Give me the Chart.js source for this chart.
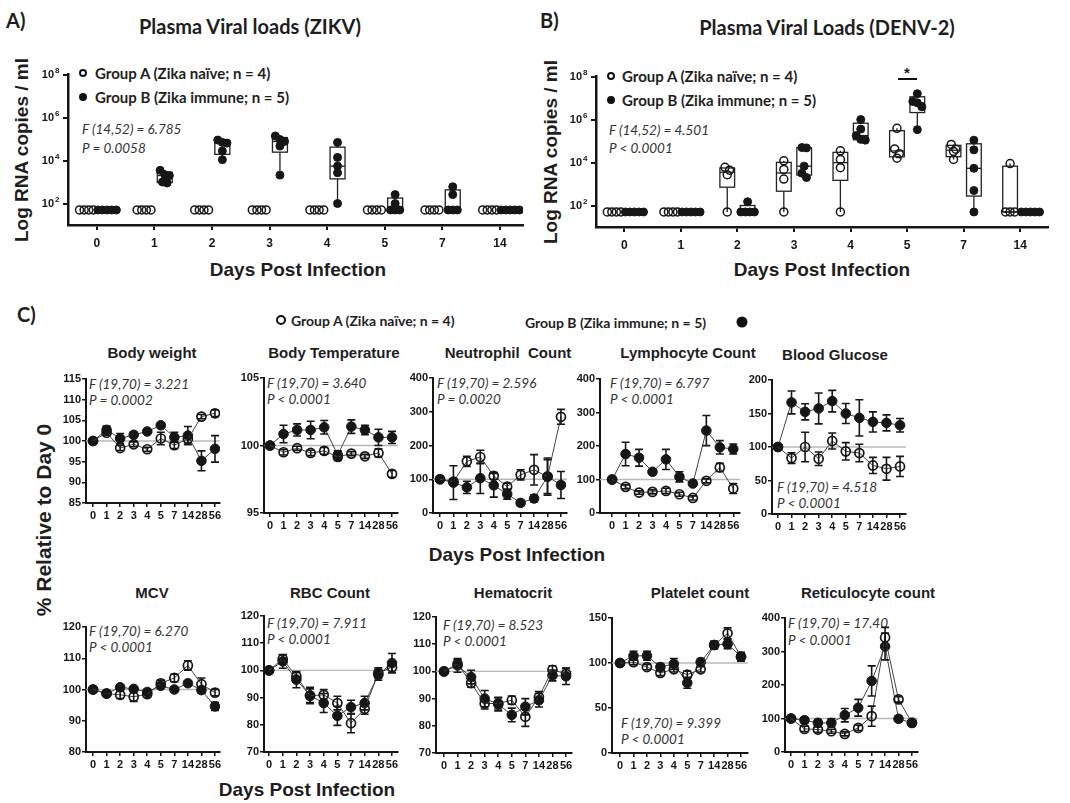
<!DOCTYPE html>
<html>
<head>
<meta charset="utf-8">
<script src="https://cdn.jsdelivr.net/npm/chart.js@4.4.0/dist/chart.umd.min.js"></script>
<style>
  body { margin: 0; width: 1070px; height: 803px; background: #fff; position: relative; overflow: hidden; }
  .t { position: absolute; white-space: nowrap; color: #1e1e1e; line-height: 1; }
  .c { transform: translate(-50%, -50%); }
  .l { transform: translateY(-50%); }
  .letra { font: bold 20px 'Lato', sans-serif; }
  .titulo { font: bold 20px 'Lato', sans-serif; }
  .leyenda { font: bold 15px 'Lato', sans-serif; }
  .estad { font: italic 13.5px 'Lato', sans-serif; color: #333; }
  .sub { font: bold 15px 'Liberation Sans', Arial, sans-serif; }
  .eje { font: bold 19px 'Liberation Sans', Arial, sans-serif; }
  .ejev { font: bold 19px 'Liberation Sans', Arial, sans-serif; transform: translate(-50%, -50%) rotate(-90deg); }
  .pto { position: absolute; width: 8px; height: 8px; border-radius: 50%; border: 2px solid #111; box-sizing: border-box; transform: translate(-50%, -50%); }
  .lleno { background: #111; }
</style>
</head>
<body>

<div class="t letra" style="left:6px;top:8px">A)</div>
<div class="t letra" style="left:540px;top:8px">B)</div>
<div class="t letra" style="left:17px;top:302px">C)</div>

<div class="t titulo c" style="left:250px;top:26px">Plasma Viral loads (ZIKV)</div>
<div class="t titulo c" style="left:827px;top:27px">Plasma Viral Loads (DENV-2)</div>

<div class="pto" style="left:83px;top:73px"></div>
<div class="t leyenda l" style="left:95px;top:73px">Group A (Zika naïve; n = 4)</div>
<div class="pto lleno" style="left:83px;top:97px"></div>
<div class="t leyenda l" style="left:95px;top:97px">Group B (Zika immune; n = 5)</div>
<div class="t estad l" style="left:82px;top:129px">F (14,52) = 6.785</div>
<div class="t estad l" style="left:82px;top:148px">P = 0.0058</div>

<div class="pto" style="left:611px;top:76px"></div>
<div class="t leyenda l" style="left:622px;top:76px">Group A (Zika naïve; n = 4)</div>
<div class="pto lleno" style="left:611px;top:100px"></div>
<div class="t leyenda l" style="left:622px;top:100px">Group B (Zika immune; n = 5)</div>
<div class="t estad l" style="left:609px;top:130px">F (14,52) = 4.501</div>
<div class="t estad l" style="left:609px;top:148px">P &lt; 0.0001</div>
<div style="position:absolute;left:898px;top:78px;width:19px;height:2px;background:#111"></div>
<div class="t c" style="left:907px;top:72px;font:bold 15px 'Liberation Sans'">*</div>

<div class="t eje c" style="left:298px;top:270px">Days Post Infection</div>
<div class="t eje c" style="left:822px;top:270px">Days Post Infection</div>
<div class="t ejev" style="left:22px;top:150px">Log RNA copies / ml</div>
<div class="t ejev" style="left:551px;top:152px">Log RNA copies / ml</div>

<div class="pto" style="left:281px;top:320px;width:10px;height:10px"></div>
<div class="t leyenda l" style="left:291px;top:320px;font-size:14px">Group A (Zika naïve; n = 4)</div>
<div class="t leyenda l" style="left:525px;top:322px;font-size:14px">Group B (Zika immune; n = 5)</div>
<div class="pto lleno" style="left:742px;top:322px;width:11px;height:11px"></div>

<div class="t sub c" style="left:152px;top:352px">Body weight</div>
<div class="t sub c" style="left:334px;top:352px">Body Temperature</div>
<div class="t sub c" style="left:508px;top:352px">Neutrophil&nbsp; Count</div>
<div class="t sub c" style="left:688px;top:352px">Lymphocyte Count</div>
<div class="t sub c" style="left:835px;top:354px">Blood Glucose</div>
<div class="t sub c" style="left:152px;top:592px">MCV</div>
<div class="t sub c" style="left:330px;top:592px">RBC Count</div>
<div class="t sub c" style="left:513px;top:592px">Hematocrit</div>
<div class="t sub c" style="left:700px;top:592px">Platelet count</div>
<div class="t sub c" style="left:868px;top:592px">Reticulocyte count</div>

<div class="t estad l" style="left:89px;top:384px">F (19,70) = 3.221</div>
<div class="t estad l" style="left:89px;top:400px">P = 0.0002</div>
<div class="t estad l" style="left:267px;top:383px">F (19,70) = 3.640</div>
<div class="t estad l" style="left:267px;top:399px">P &lt; 0.0001</div>
<div class="t estad l" style="left:437px;top:383px">F (19,70) = 2.596</div>
<div class="t estad l" style="left:437px;top:399px">P = 0.0020</div>
<div class="t estad l" style="left:610px;top:383px">F (19,70) = 6.797</div>
<div class="t estad l" style="left:610px;top:399px">P &lt; 0.0001</div>
<div class="t estad l" style="left:777px;top:487px">F (19,70) = 4.518</div>
<div class="t estad l" style="left:777px;top:503px">P &lt; 0.0001</div>
<div class="t estad l" style="left:89px;top:631px">F (19,70) = 6.270</div>
<div class="t estad l" style="left:89px;top:647px">P &lt; 0.0001</div>
<div class="t estad l" style="left:267px;top:623px">F (19,70) = 7.911</div>
<div class="t estad l" style="left:267px;top:639px">P &lt; 0.0001</div>
<div class="t estad l" style="left:443px;top:625px">F (19,70) = 8.523</div>
<div class="t estad l" style="left:443px;top:641px">P &lt; 0.0001</div>
<div class="t estad l" style="left:621px;top:723px">F (19,70) = 9.399</div>
<div class="t estad l" style="left:621px;top:739px">P &lt; 0.0001</div>
<div class="t estad l" style="left:788px;top:623px">F (19,70) = 17.40</div>
<div class="t estad l" style="left:788px;top:640px">P &lt; 0.0001</div>

<div class="t eje c" style="left:517px;top:555px">Days Post Infection</div>
<div class="t eje c" style="left:307px;top:790px">Days Post Infection</div>
<div class="t ejev" style="left:44px;top:520px;font-size:21px">% Relative to Day 0</div>

<script>
// Datos de cargas virales (copias/ml), una lista por día
const diasVirales = ['0', '1', '2', '3', '4', '5', '7', '14'];
const ticksLog = [1e2, 1e4, 1e6, 1e8];

const zikvGrupoA = [
    [50, 50, 50, 50], [50, 50, 50, 50], [50, 50, 50, 50], [50, 50, 50, 50],
    [50, 50, 50, 50], [50, 50, 50, 50], [50, 50, 50, 50], [50, 50, 50, 50]
];
const zikvGrupoB = [
    [50, 50, 50, 50, 50],
    [3500, 2200, 2000, 1000, 900],
    [90000, 70000, 65000, 28000, 11000],
    [140000, 95000, 78000, 47000, 2100],
    [70000, 14000, 5500, 2700, 100],
    [260, 100, 50, 50, 50],
    [600, 260, 50, 50, 50],
    [50, 50, 50, 50, 50]
];
const denvGrupoA = [
    [50, 50, 50, 50],
    [50, 50, 50, 50],
    [6000, 4400, 2700, 50],
    [12000, 4800, 1700, 50],
    [35000, 14000, 5800, 50],
    [390000, 43000, 26000, 16000],
    [70000, 42000, 33000, 14000],
    [9000, 50, 50, 50]
];
const denvGrupoB = [
    [50, 50, 50, 50, 50],
    [50, 50, 50, 50, 50],
    [150, 50, 50, 50, 50],
    [50000, 48000, 6800, 3200, 2000],
    [1000000, 360000, 180000, 120000, 110000],
    [16000000, 7000000, 6000000, 3900000, 340000],
    [110000, 39000, 5400, 500, 50],
    [50, 50, 50, 50, 50]
];

// Parámetros clínicos (% respecto al día 0), media y error
const dias = ['0', '1', '2', '3', '4', '5', '7', '14', '28', '56'];

const pesoA = [100, 102.0, 98.3, 99.2, 98.0, 100.6, 99.0, 100.5, 105.9, 106.7];
const pesoAerr = [0, 0.6, 0.6, 0.6, 0.5, 1.5, 0.8, 1.0, 0.5, 0.8];
const pesoB = [100, 102.7, 100.6, 101.5, 102.3, 103.8, 100.9, 101.3, 95.2, 98.1];
const pesoBerr = [0, 0.9, 1.2, 0.6, 0.3, 0.5, 1.2, 2.2, 2.4, 3.2];

const tempA = [100, 99.5, 99.8, 99.45, 99.6, 99.15, 99.4, 99.2, 99.45, 97.9];
const tempAerr = [0, 0.2, 0.15, 0.2, 0.25, 0.25, 0.15, 0.15, 0.3, 0.25];
const tempB = [100, 100.85, 101.15, 101.15, 101.35, 99.3, 101.4, 101.15, 100.6, 100.6];
const tempBerr = [0, 0.65, 0.45, 0.65, 0.5, 0.3, 0.5, 0.35, 0.6, 0.45];

const neuA = [100, 93, 153, 166, 110, 78, 113, 128, 108, 285];
const neuAerr = [0, 8, 15, 20, 10, 10, 15, 45, 50, 22];
const neuB = [100, 90, 76, 103, 82, 56, 30, 43, 108, 83];
const neuBerr = [0, 50, 18, 45, 35, 15, 8, 10, 55, 40];

const linA = [100, 78, 61, 63, 66, 56, 45, 96, 136, 73];
const linAerr = [0, 6, 5, 6, 8, 6, 6, 6, 12, 15];
const linB = [100, 176, 165, 123, 160, 108, 88, 246, 196, 191];
const linBerr = [0, 35, 25, 6, 30, 15, 6, 45, 20, 15];

const gluA = [100, 83.5, 100, 82.5, 109, 93.5, 91, 72.5, 67.5, 71];
const gluAerr = [0, 8, 22, 10, 12, 13, 13, 12, 17, 15];
const gluB = [100, 166.5, 152.5, 157.5, 168.5, 150, 143.5, 137.5, 136, 132.5];
const gluBerr = [0, 17, 12, 23, 16, 15, 27, 15, 12, 10];

const mcvA = [100, 98.7, 98.3, 97.7, 98.5, 102, 103.7, 107.7, 101.7, 99];
const mcvAerr = [0, 0.5, 1.2, 1.5, 1, 1, 1.2, 1.5, 2, 1];
const mcvB = [100, 98.7, 100.7, 100.2, 99.2, 101.2, 100, 102, 99.8, 94.6];
const mcvBerr = [0, 0.5, 0.8, 0.6, 0.8, 0.8, 0.5, 0.7, 1, 1.3];

const rbcA = [100, 104.2, 97.8, 90.7, 91.0, 88, 80.6, 85.9, 99, 101.2];
const rbcAerr = [0, 1.5, 1.5, 2.5, 2, 2.5, 3.5, 2, 2, 2];
const rbcB = [100, 103.3, 96.6, 90.8, 88, 83.3, 86.5, 88, 98.4, 102.7];
const rbcBerr = [0, 2.5, 3, 3, 3.5, 3.5, 2.5, 2.5, 2, 3.5];

const hctA = [100, 102.8, 95.7, 88.2, 88.2, 89.4, 83.3, 90.6, 100.6, 99.1];
const hctAerr = [0, 1.5, 1.5, 2, 2, 1.5, 3.5, 2, 1.5, 2];
const hctB = [100, 102.2, 97.9, 90, 88, 84, 87, 89.4, 98.5, 98.2];
const hctBerr = [0, 2.5, 2.5, 3, 2.5, 2.5, 3, 2.5, 2, 3];

const plaA = [100, 101, 95.5, 89, 93, 87, 93, 120, 133, 107];
const plaAerr = [0, 3, 3, 3, 3, 4, 3, 4, 6, 3];
const plaB = [100, 108, 108, 95.5, 99, 78, 101, 120, 121, 107];
const plaBerr = [0, 5, 5, 4, 6, 6, 4, 4, 5, 5];

const retA = [100, 69, 67, 62, 54, 72, 107, 342, 157, 87];
const retAerr = [0, 8, 8, 6, 6, 8, 30, 30, 8, 8];
const retB = [100, 95, 87, 87, 110, 132, 212, 315, 99, 87];
const retBerr = [0, 8, 10, 12, 20, 25, 45, 40, 8, 8];

const ticksPeso = [85, 90, 95, 100, 105, 110, 115];
const ticksTemp = [95, 100, 105];
const ticksCel = [0, 100, 200, 300, 400];
const ticksGlu = [0, 50, 100, 150, 200];
const ticksMcv = [80, 90, 100, 110, 120];
const ticksRoja = [70, 80, 90, 100, 110, 120];
const ticksPla = [0, 50, 100, 150];

const NEGRO = '#161616';
const fuenteTicks = { family: 'Liberation Sans', weight: 'bold', size: 11 };

// percentil al estilo GraphPad (posición (n+1)p)
function percentil(ordenados, p) {
    const n = ordenados.length;
    const pos = p * (n + 1) - 1;
    if (pos <= 0) return ordenados[0];
    if (pos >= n - 1) return ordenados[n - 1];
    const lo = Math.floor(pos);
    return ordenados[lo] + (pos - lo) * (ordenados[lo + 1] - ordenados[lo]);
}

// cajas min-max detrás de los puntos
const cajasPlugin = {
    id: 'cajas',
    beforeDatasetsDraw(chart) {
        const { ctx, scales: { x, y } } = chart;
        chart.data.datasets.forEach(ds => {
            if (!ds.grupos) return;
            ds.grupos.forEach((valores, i) => {
                const s = [...valores].sort((a, b) => a - b);
                if (s[0] === s[s.length - 1]) return;
                const cx = x.getPixelForValue(i + ds.desplazamiento);
                const mitad = (x.getPixelForValue(0.13) - x.getPixelForValue(0));
                const pMin = y.getPixelForValue(s[0]);
                const pMax = y.getPixelForValue(s[s.length - 1]);
                const pQ1 = y.getPixelForValue(percentil(s, 0.25));
                const pQ3 = y.getPixelForValue(percentil(s, 0.75));
                const pMed = y.getPixelForValue(percentil(s, 0.5));
                ctx.save();
                ctx.strokeStyle = '#222';
                ctx.lineWidth = 1.3;
                ctx.beginPath();
                ctx.moveTo(cx, pMax); ctx.lineTo(cx, pQ3);
                ctx.moveTo(cx, pQ1); ctx.lineTo(cx, pMin);
                ctx.stroke();
                ctx.fillStyle = '#fff';
                ctx.fillRect(cx - mitad, pQ3, mitad * 2, pQ1 - pQ3);
                ctx.strokeRect(cx - mitad, pQ3, mitad * 2, pQ1 - pQ3);
                ctx.beginPath();
                ctx.moveTo(cx - mitad, pMed); ctx.lineTo(cx + mitad, pMed);
                ctx.stroke();
                ctx.restore();
            });
        });
    },
    // exponentes de las etiquetas 10^n
    afterDraw(chart) {
        const { ctx, chartArea, scales: { y } } = chart;
        ctx.save();
        ctx.fillStyle = NEGRO;
        ctx.font = "bold 8px 'Liberation Sans'";
        ctx.textBaseline = 'middle';
        ctx.textAlign = 'left';
        ticksLog.forEach(v => {
            const py = y.getPixelForValue(v);
            ctx.fillText(String(Math.round(Math.log10(v))), chartArea.left - 13, py - 4);
        });
        ctx.restore();
    }
};

// línea de referencia en 100 y barras de error
const barrasPlugin = {
    id: 'barras',
    beforeDatasetsDraw(chart) {
        const { ctx, chartArea, scales: { y } } = chart;
        const py = y.getPixelForValue(100);
        ctx.save();
        ctx.strokeStyle = '#b8b8b8';
        ctx.lineWidth = 1.3;
        ctx.beginPath();
        ctx.moveTo(chartArea.left, py); ctx.lineTo(chartArea.right, py);
        ctx.stroke();
        ctx.restore();
    },
    afterDatasetsDraw(chart) {
        const { ctx, scales: { x, y } } = chart;
        ctx.save();
        ctx.strokeStyle = NEGRO;
        ctx.lineWidth = 1.6;
        chart.data.datasets.forEach(ds => {
            ds.data.forEach((p, j) => {
                const e = ds.errores[j];
                if (!e) return;
                const px = x.getPixelForValue(p.x);
                const arriba = y.getPixelForValue(p.y + e);
                const abajo = y.getPixelForValue(p.y - e);
                ctx.beginPath();
                ctx.moveTo(px, arriba); ctx.lineTo(px, abajo);
                ctx.moveTo(px - 4, arriba); ctx.lineTo(px + 4, arriba);
                ctx.moveTo(px - 4, abajo); ctx.lineTo(px + 4, abajo);
                ctx.stroke();
            });
        });
        ctx.restore();
    }
};

function crearCanvas(area, pad) {
    const c = document.createElement('canvas');
    const w = area.der - area.izq + pad.izq + pad.der;
    const h = area.abajo - area.arriba + pad.arriba + pad.abajo;
    c.width = w;
    c.height = h;
    c.style.cssText = `position:absolute;left:${area.izq - pad.izq}px;top:${area.arriba - pad.arriba}px;width:${w}px;height:${h}px;`;
    document.body.appendChild(c);
    return c;
}

function ejeComun(pad, lado) {
    return {
        grid: { display: true, drawOnChartArea: false, drawTicks: true, tickLength: 4, color: NEGRO, lineWidth: 1.5 },
        border: { display: true, color: NEGRO, width: 2 },
        afterFit: s => { if (lado === 'y') s.width = pad.izq; else s.height = pad.abajo; }
    };
}

// reparte en horizontal los puntos con valores parecidos
function puntosGrupo(grupos, desplazamiento) {
    const pts = [];
    grupos.forEach((valores, i) => {
        const montones = [];
        valores.forEach(v => {
            const lv = Math.log10(v);
            let m = montones.find(c => Math.abs(c.lv - lv) < 0.3);
            if (!m) { m = { lv, items: [] }; montones.push(m); }
            m.items.push(v);
        });
        montones.forEach(m => {
            const n = m.items.length;
            m.items.forEach((v, k) => pts.push({ x: i + desplazamiento + (k - (n - 1) / 2) * 0.08, y: v }));
        });
    });
    return pts;
}

function graficoViral(area, grupoA, grupoB, rangoX) {
    const pad = { izq: 44, der: 14, arriba: 10, abajo: 26 };
    const canvas = crearCanvas(area, pad);
    new Chart(canvas, {
        type: 'scatter',
        data: {
            datasets: [
                {
                    label: 'Group B', data: puntosGrupo(grupoB, 0.18), grupos: grupoB, desplazamiento: 0.18,
                    pointRadius: 4, pointBackgroundColor: NEGRO, pointBorderColor: NEGRO, pointBorderWidth: 1
                },
                {
                    label: 'Group A', data: puntosGrupo(grupoA, -0.18), grupos: grupoA, desplazamiento: -0.18,
                    pointRadius: 4, pointBackgroundColor: 'rgba(255,255,255,0)', pointBorderColor: NEGRO, pointBorderWidth: 1.5
                }
            ]
        },
        options: {
            responsive: false, animation: false, devicePixelRatio: 1,
            layout: { padding: { left: 0, top: pad.arriba, right: pad.der, bottom: 0 } },
            plugins: { legend: { display: false }, tooltip: { enabled: false } },
            scales: {
                x: {
                    type: 'linear', min: rangoX[0], max: rangoX[1],
                    ...ejeComun(pad, 'x'),
                    border: { display: true, color: NEGRO, width: 2.5 },
                    grid: { display: true, drawOnChartArea: false, drawTicks: true, tickLength: 5, color: NEGRO, lineWidth: 2 },
                    afterBuildTicks: s => { s.ticks = diasVirales.map((d, i) => ({ value: i })); },
                    ticks: { autoSkip: false, maxRotation: 0, minRotation: 0, padding: 6, color: NEGRO,
                        font: { family: 'Liberation Sans', weight: 'bold', size: 12 },
                        callback: (v, i) => diasVirales[i] }
                },
                y: {
                    type: 'logarithmic', min: 10, max: 1e8,
                    ...ejeComun(pad, 'y'),
                    border: { display: true, color: NEGRO, width: 2.5 },
                    grid: { display: true, drawOnChartArea: false, drawTicks: true, tickLength: 5, color: NEGRO, lineWidth: 2 },
                    afterBuildTicks: s => { s.ticks = ticksLog.map(v => ({ value: v })); },
                    ticks: { padding: 9, color: NEGRO, font: { family: 'Liberation Sans', weight: 'bold', size: 11 },
                        callback: () => '10' }
                }
            }
        },
        plugins: [cajasPlugin]
    });
}

function graficoClinico(area, serieA, errA, serieB, errB, ticksY, rangoX) {
    const pad = { izq: 40, der: 12, arriba: 10, abajo: 22 };
    const canvas = crearCanvas(area, pad);
    const aPuntos = s => s.map((v, i) => ({ x: i, y: v }));
    new Chart(canvas, {
        type: 'line',
        data: {
            datasets: [
                {
                    label: 'Group A', data: aPuntos(serieA), errores: errA,
                    borderColor: '#444', borderWidth: 1, tension: 0,
                    pointRadius: 4.5, pointBackgroundColor: 'rgba(255,255,255,0)', pointBorderColor: NEGRO, pointBorderWidth: 1.7
                },
                {
                    label: 'Group B', data: aPuntos(serieB), errores: errB,
                    borderColor: '#444', borderWidth: 1, tension: 0,
                    pointRadius: 4.8, pointBackgroundColor: NEGRO, pointBorderColor: NEGRO, pointBorderWidth: 1
                }
            ]
        },
        options: {
            responsive: false, animation: false, devicePixelRatio: 1,
            layout: { padding: { left: 0, top: pad.arriba, right: pad.der, bottom: 0 } },
            plugins: { legend: { display: false }, tooltip: { enabled: false } },
            scales: {
                x: {
                    type: 'linear', min: rangoX[0], max: rangoX[1],
                    ...ejeComun(pad, 'x'),
                    afterBuildTicks: s => { s.ticks = dias.map((d, i) => ({ value: i })); },
                    ticks: { autoSkip: false, maxRotation: 0, minRotation: 0, padding: 2, color: NEGRO, font: fuenteTicks,
                        callback: (v, i) => dias[i] }
                },
                y: {
                    min: ticksY[0], max: ticksY[ticksY.length - 1],
                    ...ejeComun(pad, 'y'),
                    afterBuildTicks: s => { s.ticks = ticksY.map(v => ({ value: v })); },
                    ticks: { padding: 1, color: NEGRO, font: fuenteTicks }
                }
            }
        },
        plugins: [barrasPlugin]
    });
}

// Paneles A y B
graficoViral({ izq: 68, arriba: 69, der: 523, abajo: 225 }, zikvGrupoA, zikvGrupoB, [-0.5, 7.4]);
graficoViral({ izq: 596, arriba: 71, der: 1048, abajo: 227 }, denvGrupoA, denvGrupoB, [-0.5, 7.49]);

// Panel C, fila superior
graficoClinico({ izq: 86, arriba: 379, der: 220, abajo: 503 }, pesoA, pesoAerr, pesoB, pesoBerr, ticksPeso, [-0.52, 9.37]);
graficoClinico({ izq: 264, arriba: 378, der: 398, abajo: 513 }, tempA, tempAerr, tempB, tempBerr, ticksTemp, [-0.44, 9.44]);
graficoClinico({ izq: 433, arriba: 378, der: 567, abajo: 513 }, neuA, neuAerr, neuB, neuBerr, ticksCel, [-0.52, 9.45]);
graficoClinico({ izq: 600, arriba: 379, der: 740, abajo: 513 }, linA, linAerr, linB, linBerr, ticksCel, [-0.9, 9.5]);
graficoClinico({ izq: 772, arriba: 380, der: 906, abajo: 514 }, gluA, gluAerr, gluB, gluBerr, ticksGlu, [-0.44, 9.44]);

// Panel C, fila inferior
graficoClinico({ izq: 86, arriba: 627, der: 220, abajo: 752 }, mcvA, mcvAerr, mcvB, mcvBerr, ticksMcv, [-0.52, 9.37]);
graficoClinico({ izq: 264, arriba: 616, der: 398, abajo: 752 }, rbcA, rbcAerr, rbcB, rbcBerr, ticksRoja, [-0.37, 9.44]);
graficoClinico({ izq: 436, arriba: 617, der: 572, abajo: 753 }, hctA, hctAerr, hctB, hctBerr, ticksRoja, [-0.59, 9.44]);
graficoClinico({ izq: 612, arriba: 618, der: 748, abajo: 753 }, plaA, plaAerr, plaB, plaBerr, ticksPla, [-0.6, 9.52]);
graficoClinico({ izq: 785, arriba: 618, der: 918, abajo: 752 }, retA, retAerr, retB, retBerr, ticksCel, [-0.45, 9.45]);
</script>
</body>
</html>
